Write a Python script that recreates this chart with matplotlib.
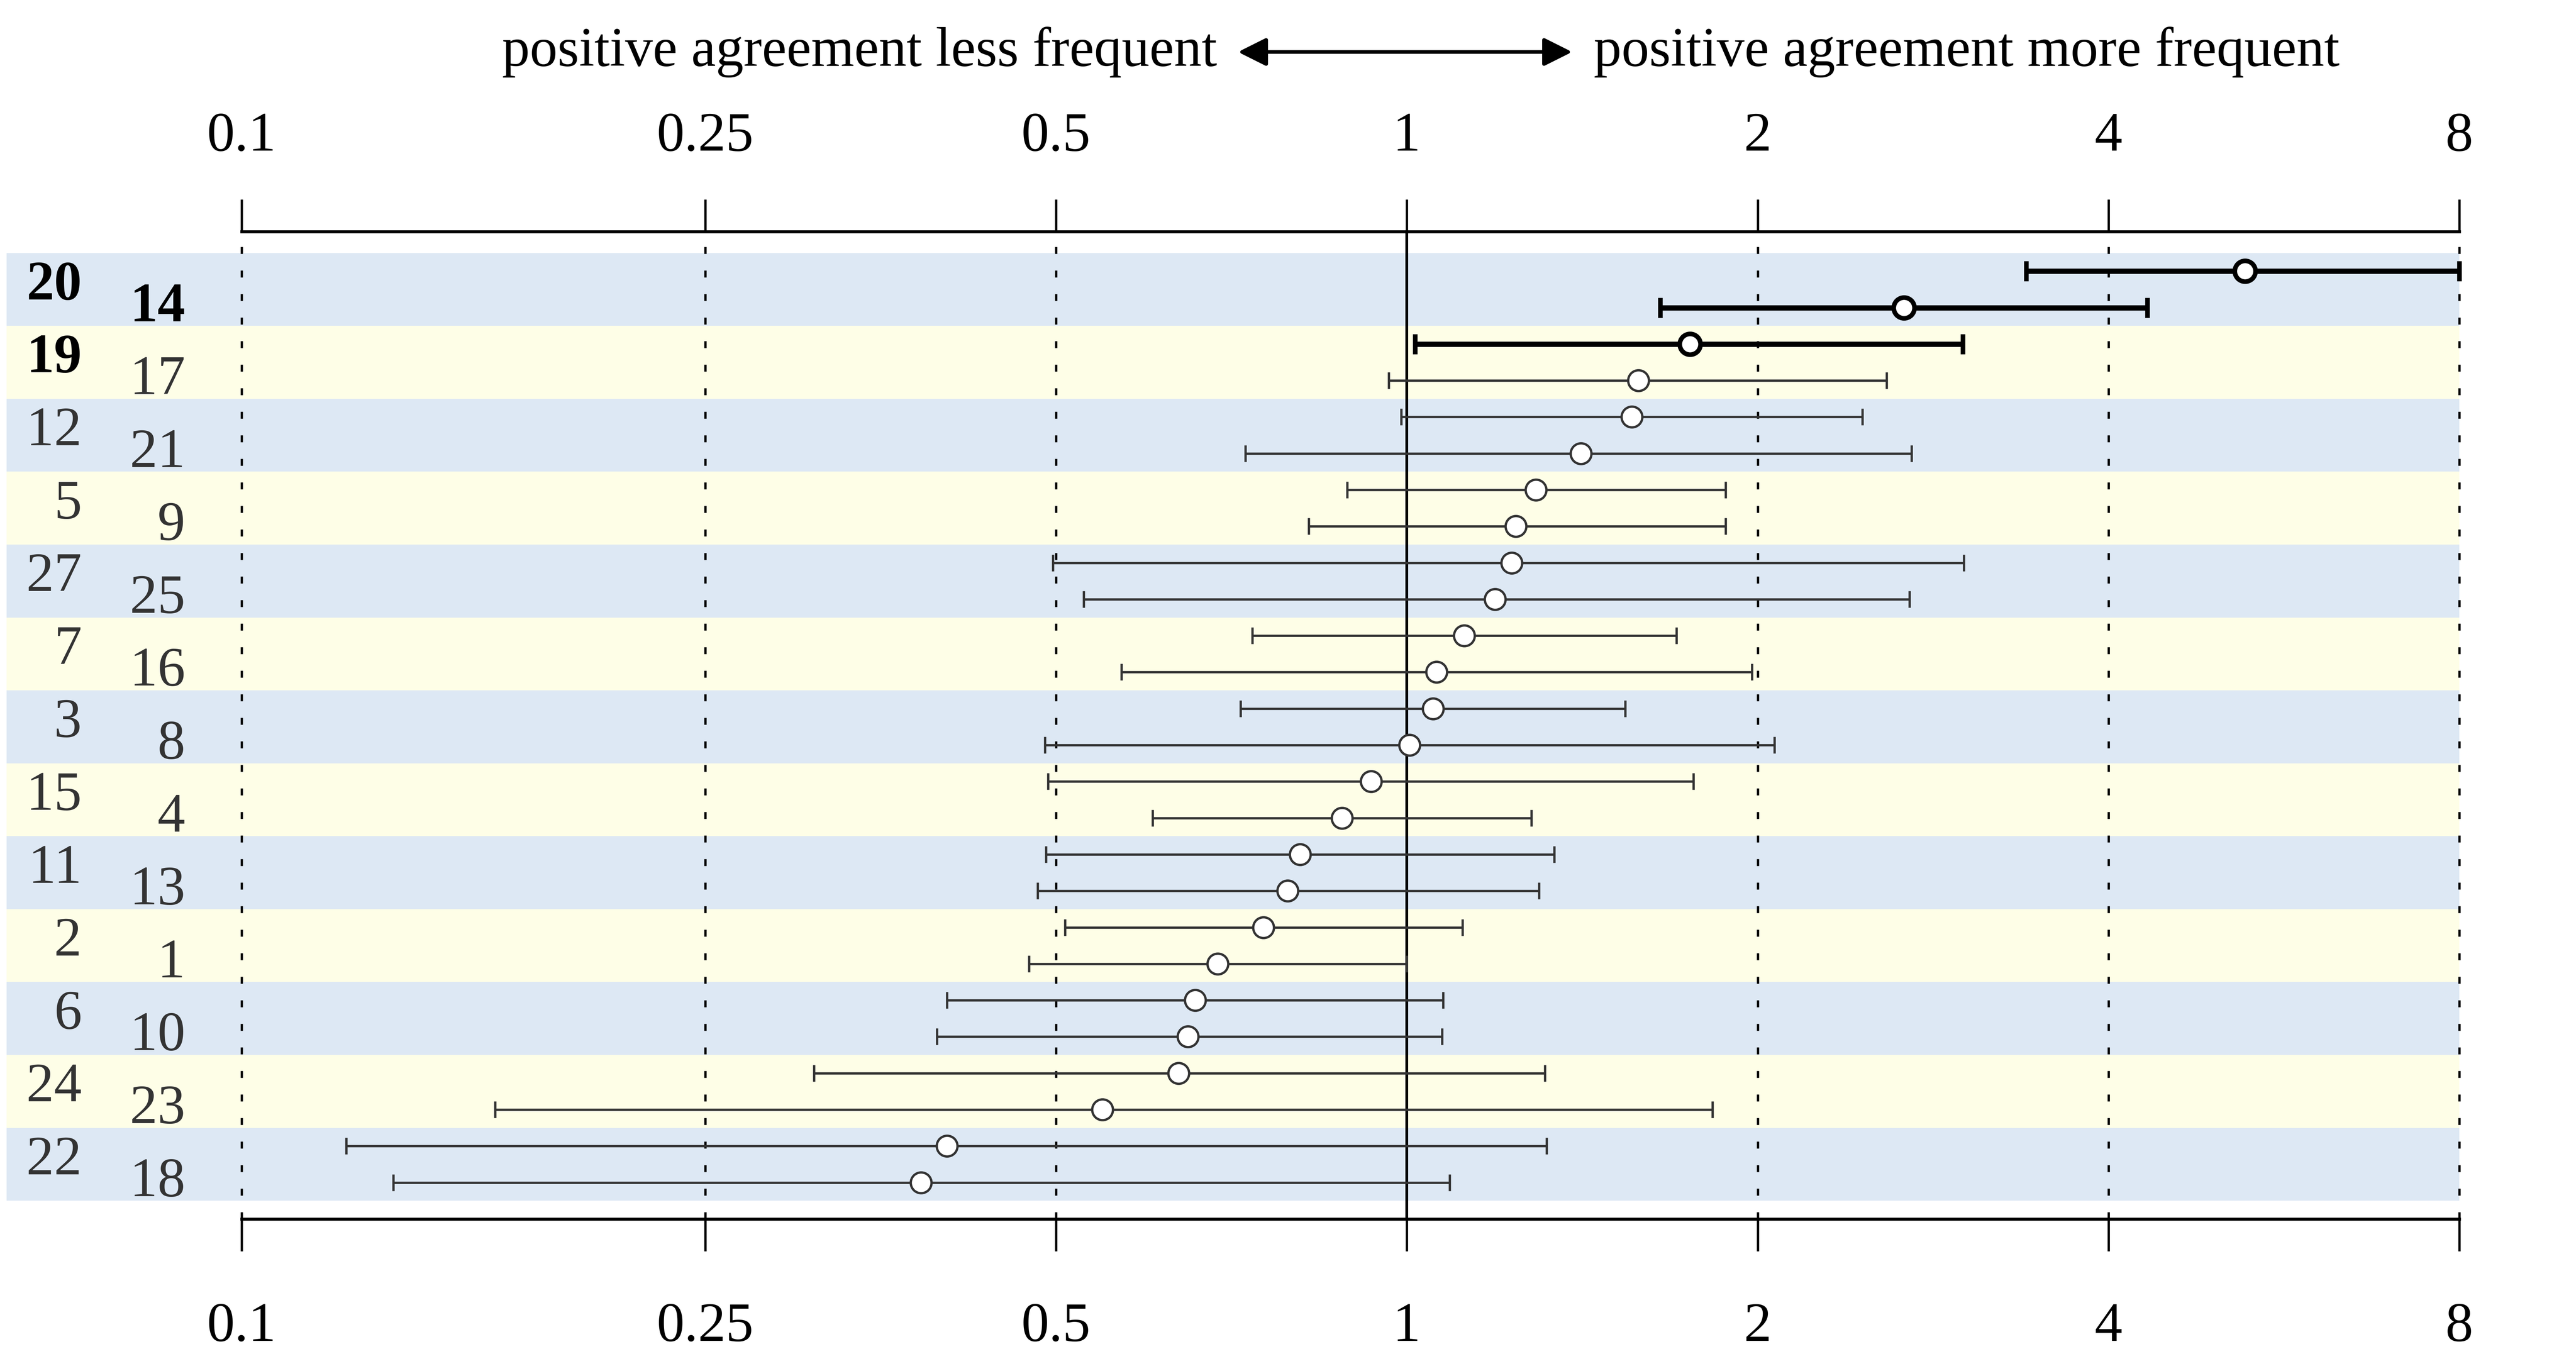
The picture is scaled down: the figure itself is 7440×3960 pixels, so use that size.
import matplotlib
matplotlib.use('Agg')
import matplotlib.pyplot as plt
from matplotlib.patches import Rectangle
from matplotlib.transforms import blended_transform_factory
from matplotlib.ticker import NullLocator
import numpy as np

plt.rcParams['font.family'] = ['Liberation Serif', 'DejaVu Serif']

# ---------------- data ----------------
labels = ['20', '14', '19', '17', '12', '21', '5', '9', '27', '25', '7', '16', '3',
          '8', '15', '4', '11', '13', '2', '1', '6', '10', '24', '23', '22', '18']
estimate = [5.24, 2.67, 1.75, 1.58, 1.56, 1.41, 1.29, 1.24, 1.23, 1.19, 1.12, 1.06, 1.053,
            1.005, 0.932, 0.880, 0.810, 0.790, 0.753, 0.688, 0.658, 0.649, 0.637, 0.548, 0.403, 0.383]
lower = [3.40, 1.65, 1.016, 0.965, 0.989, 0.727, 0.889, 0.824, 0.497, 0.528, 0.737, 0.569, 0.720,
         0.489, 0.492, 0.605, 0.490, 0.482, 0.509, 0.474, 0.403, 0.395, 0.310, 0.165, 0.123, 0.135]
upper = [8.0, 4.32, 3.00, 2.58, 2.46, 2.71, 1.877, 1.877, 3.006, 2.70, 1.704, 1.978, 1.539,
         2.067, 1.761, 1.279, 1.338, 1.298, 1.116, 1.000, 1.074, 1.072, 1.314, 1.829, 1.318, 1.088]
highlight = [True, True, True] + [False] * 23

tick_values = [0.1, 0.25, 0.5, 1, 2, 4, 8]
tick_labels = ['0.1', '0.25', '0.5', '1', '2', '4', '8']
header_left = 'positive agreement less frequent'
header_right = 'positive agreement more frequent'

band_colors = ['#dde8f4', '#fefee7']

# ---------------- figure ----------------
fig = plt.figure(figsize=(15.5, 8.25), dpi=480)
ax = fig.add_axes([0.09375, 0.1109, 0.86095, 0.7201])
ax.set_xscale('log')
ax.set_xlim(0.1, 8)
n = len(labels)
ax.set_ylim(26.0, -1.083)
ax.set_yticks([])
for s in ['left', 'right', 'top']:
    ax.spines[s].set_visible(False)
ax.spines['bottom'].set_linewidth(1.3)
ax.set_facecolor('none')

y = np.arange(n)
est = np.array(estimate)
lo = np.array(lower)
hi = np.array(upper)
hl = np.array(highlight)

# bands
trans = blended_transform_factory(ax.transAxes, ax.transData)
for k in range(n // 2):
    r = Rectangle((-0.106, 2 * k - 0.5), 1.106, 2.0, transform=trans,
                  facecolor=band_colors[k % 2], edgecolor='none', zorder=0, clip_on=False)
    ax.add_patch(r)

# reference lines
for v in tick_values:
    if v == 1:
        ax.axvline(v, color='black', lw=1.2, zorder=1.5, clip_on=False)
    else:
        ax.axvline(v, color='black', lw=1.0, ls=(0, (3, 7.2)), zorder=1.5, clip_on=False)

# regular rows
m = ~hl
ax.errorbar(est[m], y[m], xerr=[est[m] - lo[m], hi[m] - est[m]], fmt='o',
            color='#333333', ecolor='#333333', elinewidth=1.0, capsize=3.6, capthick=1.0,
            ms=9.0, mfc='white', mec='#333333', mew=1.0, zorder=3)
# highlighted rows
ax.errorbar(est[hl], y[hl], xerr=[est[hl] - lo[hl], hi[hl] - est[hl]], fmt='o',
            color='black', ecolor='black', elinewidth=2.3, capsize=4.3, capthick=2.0,
            ms=9.0, mfc='white', mec='black', mew=2.0, zorder=4, clip_on=False)

# row labels
for i, lab in enumerate(labels):
    k = i // 2
    if i % 2 == 0:
        xpos, ypos = -0.0720, 2 * k + 0.775
    else:
        xpos, ypos = -0.0254, 2 * k + 1.37
    ax.text(xpos, ypos, lab, transform=trans, ha='right', va='baseline', fontsize=24,
            fontweight='bold' if highlight[i] else 'normal',
            color='black' if highlight[i] else '#333333', clip_on=False)

# bottom axis ticks
ax.set_xticks(tick_values)
ax.set_xticklabels(tick_labels)
ax.xaxis.set_minor_locator(NullLocator())
ax.tick_params(axis='x', which='major', bottom=True, top=False, direction='out',
               length=14, width=1.0, pad=22, labelsize=24, colors='black')

# top axis
sec = ax.secondary_xaxis('top')
sec.set_xticks(tick_values)
sec.set_xticklabels(tick_labels)
sec.xaxis.set_minor_locator(NullLocator())
sec.tick_params(axis='x', which='major', direction='out', length=14, width=1.0,
                pad=16, labelsize=24)
sec.spines['top'].set_linewidth(1.3)

# header
fig.text(0.4724, 0.952, header_left, ha='right', va='baseline', fontsize=24)
fig.text(0.6187, 0.952, header_right, ha='left', va='baseline', fontsize=24)
ax.annotate('', xy=(0.4806, 0.9621), xytext=(0.6103, 0.9621), xycoords='figure fraction',
            textcoords='figure fraction',
            arrowprops=dict(arrowstyle='<|-|>', color='black', lw=1.6,
                            mutation_scale=26, shrinkA=0, shrinkB=0))

fig.savefig('out.png', dpi=480, facecolor='white')
